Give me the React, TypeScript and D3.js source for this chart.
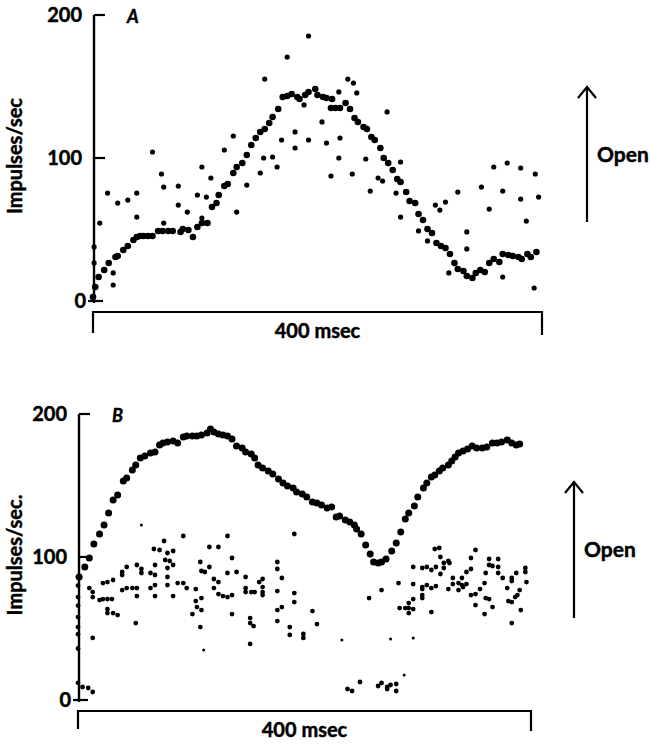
import React from "react";
import * as d3 from "d3";

// ---------- DATA (msec, impulses/sec) ----------
const yTicks = [0, 100, 200];
const xSpanLabel = "400 msec";
const yLabelA = "Impulses/sec";
const yLabelB = "Impulses/sec.";
const arrowLabel = "Open";

// Panel A: regular (large dots) record
const aCurve: [number, number][] = [
  [0, 2.8], [2, 9.8], [5, 16.8], [10, 21.7], [14, 26.6], [20, 30.8], [22, 31.5], [27, 35.7],
  [31, 38.5], [36, 42.7], [39, 44.8], [42, 45.5], [45, 45.5], [49, 45.5], [53, 45.5], [58, 49],
  [62, 49], [67, 49], [71, 49], [78, 48.3], [80, 50.3], [85, 49.7], [89, 44.8], [93, 51.7],
  [97, 54.5], [102, 54.5], [106, 65.7], [110, 68.5], [112, 74.1], [117, 80.4], [120, 81.8],
  [125, 89.5], [128, 93.7], [133, 96.5], [137, 102.1], [141, 109.1], [145, 114], [149, 118.2],
  [153, 120.3], [157, 124.5], [160, 128.7], [165, 134.3], [169, 142.7], [173, 143.4],
  [177, 144.8], [182, 142.7], [184, 141.3], [189, 144.1], [192, 146.2], [198, 148.3],
  [200, 144.1], [205, 142.7], [208, 142], [213, 141.3], [212, 135], [216, 135], [220, 135],
  [225, 138.5], [229, 134.3], [233, 128], [236, 125.2], [241, 121.7], [244, 120.3],
  [248, 114.7], [251, 112.6], [256, 107], [259, 100], [263, 96.5], [267, 91.6], [271, 85.3],
  [274, 83.2], [279, 76.2], [282, 69.9], [287, 68.5], [290, 60.8], [294, 56.6], [298, 50.3],
  [302, 47.6], [306, 40.6], [310, 38.5], [314, 37.1], [318, 32.9], [322, 26.6], [325, 22.4],
  [330, 21], [333, 17.5], [338, 16.1], [341, 19.6], [345, 21.7], [349, 20.3], [353, 26.6],
  [357, 29.4], [362, 27.3], [365, 32.9], [370, 32.2], [374, 31.5], [379, 30.8], [382, 29.4],
  [387, 32.9], [390, 30.8], [395, 34.3],
];

// Panel A: scattered (smaller dots) record
const aScatter: [number, number][] = [
  [1, 37.8], [1, 26.6], [6, 54.5], [13, 75.5], [18, 19.6], [18, 11.2], [22, 68.5], [31, 70.6],
  [39, 75.5], [39, 58.7], [53, 104.2], [61, 88.8], [63, 79.7], [63, 54.5], [76, 80.4],
  [76, 67.1], [84, 62.2], [93, 74.1], [97, 93.7], [101, 72.7], [105, 86], [97, 58], [101, 54.5],
  [117, 105.6], [125, 115.4], [128, 62.2], [137, 81.1], [149, 89.5], [152, 100], [153, 155.2],
  [160, 100.7], [164, 93.7], [168, 112.6], [173, 170.6], [180, 118.2], [180, 107], [188, 137.1],
  [192, 112.6], [192, 185.3], [204, 125.2], [208, 110.5], [212, 87.4], [219, 146.2], [220, 114],
  [219, 100], [227, 155.2], [232, 152.4], [235, 145.5], [231, 88.8], [243, 99.3], [247, 76.9],
  [254, 86], [258, 83.9], [262, 132.2], [270, 75.5], [274, 97.2], [274, 58.7], [290, 49],
  [298, 42], [305, 67.1], [309, 63.6], [314, 69.2], [317, 19.6], [325, 76.2], [333, 48.3],
  [333, 36.4], [346, 79.7], [353, 64.3], [357, 93.7], [365, 76.9], [365, 16.8], [369, 96.5],
  [381, 93], [381, 71.3], [386, 55.9], [394, 88.8], [397, 72.7], [393, 9.1],
];

// Panel B: regular (large dots) record
const bCurve: [number, number][] = [
  [1, 86], [6, 93], [10, 99.3], [14, 109.1], [19, 116.1], [23, 122.4], [27, 130.8], [31, 139.9],
  [35, 143.4], [40, 153.1], [43, 155.2], [48, 160.8], [51, 164.3], [55, 169.2], [59, 170.6],
  [64, 172.7], [68, 173.4], [72, 178.3], [75, 179.7], [79, 180.4], [84, 181.1], [88, 179.7],
  [93, 183.9], [96, 184.6], [101, 184.6], [105, 184.6], [109, 185.3], [114, 186.7], [117, 189.5],
  [120, 187.4], [124, 186], [128, 185.3], [132, 184.6], [136, 182.5], [140, 177.6], [145, 176.2],
  [148, 173.4], [153, 172], [156, 169.2], [159, 164.3], [163, 162.2], [168, 160.1], [172, 158],
  [177, 154.5], [181, 151.7], [185, 149.7], [190, 148.3], [193, 145.5], [198, 144.1], [202, 142],
  [207, 138.5], [211, 137.8], [215, 136.4], [220, 134.3], [224, 135], [228, 128], [231, 128.7],
  [236, 125.9], [240, 124.5], [244, 122.4], [246, 119.6], [250, 116.1], [254, 108.4],
  [258, 102.1], [261, 96.5], [265, 95.8], [268, 96.5], [272, 98.6], [277, 104.2], [281, 109.8],
  [285, 117.5], [289, 126.6], [292, 130.8], [297, 135.7], [300, 142], [305, 148.3], [308, 151.7],
  [312, 155.9], [315, 157.3], [319, 160.1], [322, 162.2], [327, 164.3], [330, 167.1],
  [333, 169.9], [336, 172.7], [340, 174.1], [344, 175.5], [348, 177.6], [352, 176.2],
  [357, 176.2], [361, 176.9], [366, 179.7], [370, 179.7], [374, 180.4], [379, 181.8],
  [383, 179.7], [387, 178.3], [390, 179],
];

// Panel B: scattered record
const bScatter: [number, number][] = [
  [0, 86], [0, 80], [0, 72], [0, 66], [0, 58], [0, 51], [0, 46], [0, 36], [0, 12],
  [4, 9.1], [9, 8.4], [13, 5.6],
  [10, 78.3], [13, 75.5], [13, 72], [19, 69.9], [22, 70.6], [26, 70.6], [30, 70.6], [22, 81.8],
  [26, 82.5], [31, 83.9], [26, 63.6], [26, 60.8], [31, 60.8], [35, 59.4], [13, 43.4], [39, 87.4],
  [39, 89.5], [43, 93], [39, 76.9], [43, 78.3], [48, 78.3], [52, 78.3], [52, 72.7], [52, 94.4],
  [51, 53.8], [56, 91.6], [56, 88.8], [64, 88.8], [68, 87.4], [64, 78.3], [68, 80.4], [68, 72.7],
  [68, 94.4], [67, 105.6], [72, 104.9], [76, 111.2], [79, 102.8], [84, 104.2], [77, 97.9],
  [81, 97.2], [79, 92.3], [84, 94.4], [79, 86], [79, 80.4], [84, 72.7], [88, 81.8], [93, 81.8],
  [96, 78.3], [93, 114.7], [104, 77.6], [104, 69.2], [105, 65], [109, 71.3], [109, 62.9],
  [101, 60.1], [108, 51], [108, 96.5], [109, 90.2], [112, 89.5], [116, 107], [116, 93], [124, 107],
  [120, 84.6], [124, 82.5], [120, 78.3], [124, 74.1], [128, 72.7], [132, 72], [136, 73.4],
  [132, 88.8], [136, 99.3], [132, 114.7], [140, 89.5], [136, 60.1], [148, 86], [148, 78.3],
  [148, 75.5], [153, 75.5], [156, 75.5], [160, 82.5], [163, 84.6], [163, 79], [163, 75.5],
  [163, 73.4], [152, 57.3], [152, 53.8], [155, 51.7], [152, 39.2], [176, 96.5], [176, 91.6],
  [180, 85.3], [176, 76.2], [176, 62.9], [180, 65], [176, 55.2], [191, 116.1], [191, 74.8],
  [191, 68.5], [187, 51], [187, 45.5], [199, 46.2], [199, 43.4], [207, 62.2], [211, 53.1],
  [257, 71.3], [268, 76.9],
  [238, 7.7], [242, 6.3], [249, 12.6], [265, 9.8], [268, 11.9], [273, 9.1], [273, 7.7],
  [276, 10.5], [281, 11.2], [281, 6.3],
  [284, 64.3], [289, 64.3], [292, 64.3], [296, 63.6], [292, 60.8], [292, 67.8], [296, 70.6],
  [283, 81.8], [296, 81.1], [296, 93], [304, 92.3], [308, 93], [312, 90.9], [316, 93], [304, 79],
  [308, 80.4], [304, 77.6], [304, 73.4], [304, 71.3], [312, 61.5], [316, 79.7], [312, 78.3],
  [315, 105.6], [319, 106.3], [320, 100], [323, 95.8], [327, 97.2], [328, 95.8], [323, 92.3],
  [320, 88.1], [327, 77.6], [331, 85.3], [331, 81.1], [336, 81.8], [339, 85.3], [339, 80.4],
  [343, 81.1], [336, 76.9], [340, 79], [343, 89.5], [347, 91.6], [347, 99.3], [351, 104.9],
  [347, 73.4], [351, 74.1], [355, 77.6], [359, 81.8], [360, 71.3], [363, 70.6], [351, 66.4],
  [359, 60.1], [366, 65], [363, 98.6], [363, 94.4], [366, 93.7], [371, 98.6], [371, 93],
  [360, 88.8], [371, 88.8], [375, 85.3], [383, 85.3], [383, 83.2], [387, 88.8], [395, 92.3],
  [395, 89.5], [396, 82.5], [379, 78.3], [390, 76.9], [388, 73.4], [386, 72], [380, 69.2],
  [383, 68.5], [391, 62.9], [383, 53.8],
];

// Panel B: very small dots
const bTiny: [number, number][] = [
  [56, 122.4], [111, 35], [233, 42], [276, 42.7], [296, 43.4], [288, 17.5],
];

// ---------- LAYOUT ----------
const W = 650;
const H = 744;
const FONT = "Lato, 'Open Sans', sans-serif";
const TXT = { fontFamily: FONT, fontWeight: "bold" as const, fill: "#000", stroke: "#000", strokeWidth: 0.45 };

type PanelProps = {
  letter: string;
  yLabel: string;
  xRange: [number, number];
  yRange: [number, number];
  curve: [number, number][];
  scatter: [number, number][];
  tiny: [number, number][];
  curveR: number;
  scatterR: number;
  arrowX: number;
  arrowTop: number;
  arrowBottom: number;
  bracketY: number;
  bracketDrop: number;
};

function Panel(p: PanelProps) {
  const x = d3.scaleLinear().domain([0, 400]).range(p.xRange);
  const y = d3.scaleLinear().domain([0, 200]).range(p.yRange);
  const ax = x(0) + 1;
  const top = y(200);
  const bottom = y(0) + 2;
  const midY = (y(0) + y(200)) / 2;
  const bx0 = x(0);
  const bx1 = x(400);
  return (
    <g>
      {/* y axis */}
      <line x1={ax} x2={ax} y1={top} y2={bottom} stroke="#000" strokeWidth={2.4} />
      {yTicks.map((t, i) => (
        <g key={t}>
          <line
            x1={ax - (i === 0 ? 6 : 0)}
            x2={ax + (i === 0 ? 9 : 11)}
            y1={y(t)}
            y2={y(t)}
            stroke="#000"
            strokeWidth={2.2}
          />
          <text
            x={ax - (i === 0 ? 8 : 12)}
            y={y(t)}
            dy="0.36em"
            textAnchor="end"
            fontSize={20}
            {...TXT}
          >
            {t}
          </text>
        </g>
      ))}
      <text
        transform={`translate(22,${midY - 2}) rotate(-90)`}
        textAnchor="middle"
        fontSize={20}
        {...TXT}
      >
        {p.yLabel}
      </text>
      <text x={ax + 33} y={top + 8} fontStyle="italic" fontSize={18} {...TXT}>
        {p.letter}
      </text>
      {/* time bracket */}
      <path
        d={`M${bx0},${p.bracketY + p.bracketDrop} V${p.bracketY} H${bx1} V${p.bracketY + p.bracketDrop + 2}`}
        fill="none"
        stroke="#000"
        strokeWidth={2.2}
      />
      <text x={(bx0 + bx1) / 2} y={p.bracketY + 26} textAnchor="middle" fontSize={20} {...TXT}>
        {xSpanLabel}
      </text>
      {/* Open arrow */}
      <line x1={p.arrowX} x2={p.arrowX} y1={p.arrowTop} y2={p.arrowBottom} stroke="#000" strokeWidth={2.2} />
      <path
        d={`M${p.arrowX - 9},${p.arrowTop + 11} L${p.arrowX},${p.arrowTop} L${p.arrowX + 9},${p.arrowTop + 11}`}
        fill="none"
        stroke="#000"
        strokeWidth={2.2}
      />
      <text x={p.arrowX + 10} y={(p.arrowTop + p.arrowBottom) / 2 + 7} fontSize={21} {...TXT}>
        {arrowLabel}
      </text>
      {/* data */}
      {p.scatter.map((d, i) => (
        <circle key={"s" + i} cx={x(d[0])} cy={y(d[1])} r={p.scatterR} fill="#000" />
      ))}
      {p.tiny.map((d, i) => (
        <circle key={"t" + i} cx={x(d[0])} cy={y(d[1])} r={1.5} fill="#000" />
      ))}
      {p.curve.map((d, i) => (
        <circle key={"c" + i} cx={x(d[0])} cy={y(d[1])} r={p.curveR} fill="#000" />
      ))}
    </g>
  );
}

export default function App() {
  return (
    <svg
      width={W}
      height={H}
      viewBox={`0 0 ${W} ${H}`}
      style={{ position: "absolute", left: 0, top: 0, background: "#fff" }}
    >
      <rect width={W} height={H} fill="#fff" />
      <Panel
        letter="A"
        yLabel={yLabelA}
        xRange={[93, 542]}
        yRange={[301, 15]}
        curve={aCurve}
        scatter={aScatter}
        tiny={[]}
        curveR={3.3}
        scatterR={2.6}
        arrowX={587}
        arrowTop={87}
        arrowBottom={222}
        bracketY={312}
        bracketDrop={21}
      />
      <Panel
        letter="B"
        yLabel={yLabelB}
        xRange={[78, 531]}
        yRange={[700, 414]}
        curve={bCurve}
        scatter={bScatter}
        tiny={bTiny}
        curveR={3.5}
        scatterR={2.4}
        arrowX={574}
        arrowTop={482}
        arrowBottom={618}
        bracketY={711}
        bracketDrop={18}
      />
    </svg>
  );
}
